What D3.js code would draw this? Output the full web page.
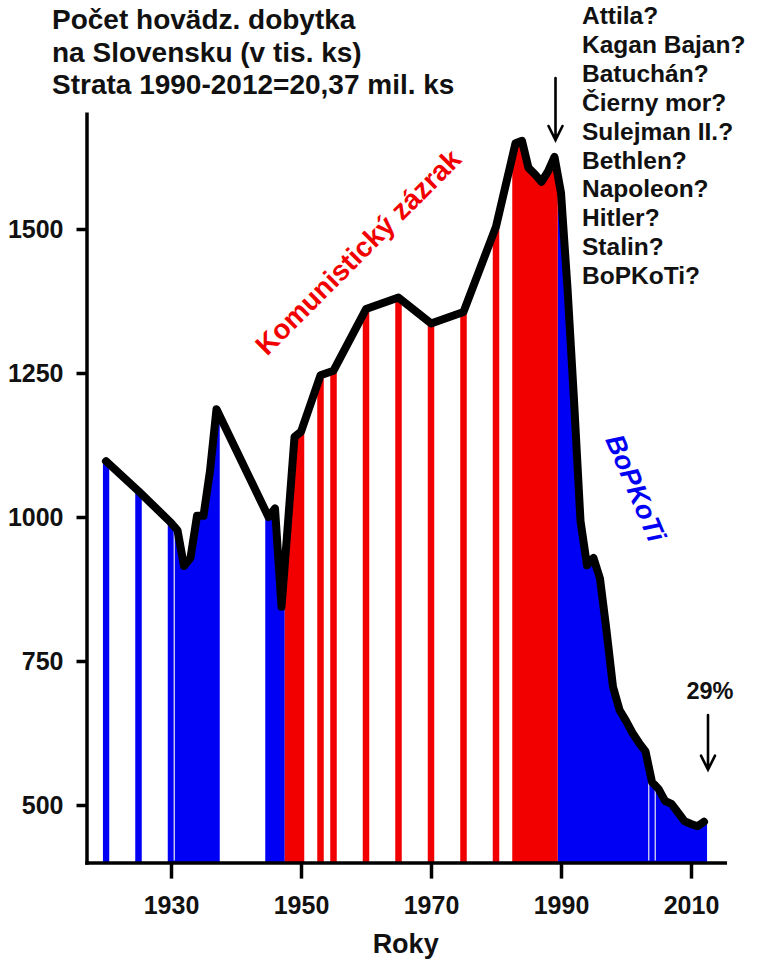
<!DOCTYPE html>
<html><head><meta charset="utf-8">
<script src="https://cdn.jsdelivr.net/npm/d3@7"></script>
<style>
html,body{margin:0;padding:0;background:#fff;}
svg{display:block;font-family:"Liberation Sans",Arial,Helvetica,sans-serif;}
</style></head><body>
<svg id="chart" width="761" height="962"></svg>
<script>
// ---- data (thousands of head of cattle) ----
const years = [1920, 1925, 1930, 1931, 1932, 1933, 1934, 1935, 1936, 1937,
  1945, 1946, 1947, 1948, 1949, 1950, 1953, 1955, 1960, 1965, 1970, 1975, 1980,
  1983, 1984, 1985, 1986, 1987, 1988, 1989,
  1990, 1991, 1992, 1993, 1994, 1995, 1996, 1997, 1998, 1999, 2000, 2001,
  2002, 2003, 2004, 2005, 2006, 2007, 2008, 2009, 2010, 2011, 2012];
const values = [1097, 1045, 990, 977, 915, 929, 1002, 1002, 1080, 1187,
  1000, 1015, 844, 990, 1139, 1148, 1246, 1254, 1361, 1381, 1336, 1356, 1504,
  1649, 1653, 1606, 1595, 1582, 1600, 1625,
  1563, 1397, 1203, 993, 916, 929, 893, 803, 705, 665, 646, 625,
  608, 593, 540, 528, 507, 502, 487, 472, 467, 463, 471];
const communistEra = [1948, 1989];
const yTicks = [500, 750, 1000, 1250, 1500];
const xTicks = [1930, 1950, 1970, 1990, 2010];
const seamEdges = [1930.5, 2003.5, 2004.5];
const titleLines = ["Počet hovädz. dobytka", "na Slovensku (v tis. ks)", "Strata 1990-2012=20,37 mil. ks"];
const suspects = ["Attila?", "Kagan Bajan?", "Batuchán?", "Čierny mor?", "Sulejman II.?",
  "Bethlen?", "Napoleon?", "Hitler?", "Stalin?", "BoPKoTi?"];
const xTitle = "Roky";
const eraLabels = {red: "Komunistický zázrak", blue: "BoPKoTi"};
const lossLabel = "29%";

// ---- setup ----
const svg = d3.select("#chart");
const data = years.map((yr, i) => ({year: yr, v: values[i]}));
const x = d3.scaleLinear().domain([1917, 2015.2]).range([86.5, 724.8]);
const y = d3.scaleLinear().domain([400, 1700]).range([862.6, 113.8]);
const colors = {blue: "#0000f5", red: "#f20000"};
const eraOf = yr => (yr >= communistEra[0] && yr <= communistEra[1]) ? "red" : "blue";

// extended series so each yearly bar spans a full year
const ext = [{year: years[0] - 0.5, v: values[0]}, ...data,
             {year: years[years.length - 1] + 0.5, v: values[values.length - 1]}];
const area = d3.area().x(d => x(d.year)).y0(y(400)).y1(d => y(d.v));
const defs = svg.append("defs");
["blue", "red"].forEach(era => {
  const cp = defs.append("clipPath").attr("id", "clip-" + era);
  cp.selectAll("rect").data(data.filter(d => eraOf(d.year) === era)).join("rect")
    .attr("x", d => x(d.year - 0.5))
    .attr("width", d => x(d.year + 0.5) - x(d.year - 0.5))
    .attr("y", 0).attr("height", 962);
  svg.append("path").datum(ext).attr("d", area)
    .attr("fill", colors[era]).attr("clip-path", `url(#clip-${era})`);
});

// faint seams between some bars
const interp = yr => {
  const i = d3.bisector(d => d.year).right(data, yr);
  const a = data[i - 1], b = data[i];
  return a.v + (b.v - a.v) * (yr - a.year) / (b.year - a.year);
};
svg.append("g").selectAll("line").data(seamEdges).join("line")
  .attr("x1", d => x(d)).attr("x2", d => x(d))
  .attr("y1", y(400) - 2).attr("y2", d => y(interp(d)) + 4)
  .attr("stroke", "#d8d8f0").attr("stroke-width", 1.3);

// line
svg.append("path").datum(data)
  .attr("d", d3.line().x(d => x(d.year)).y(d => y(d.v)))
  .attr("fill", "none").attr("stroke", "#000").attr("stroke-width", 8)
  .attr("stroke-linejoin", "round").attr("stroke-linecap", "round");

// axes
const styleAxis = g => {
  g.attr("font-family", null).attr("font-size", null);
  g.select(".domain").attr("stroke", "#000").attr("stroke-width", 3.5).attr("stroke-linecap", "square");
  g.selectAll(".tick line").attr("stroke", "#000").attr("stroke-width", 3.5);
  g.selectAll(".tick text").attr("fill", "#111").attr("font-size", 25).attr("font-weight", "bold");
};
svg.append("g").attr("transform", `translate(${x(1917)},0)`)
  .call(d3.axisLeft(y).tickValues(yTicks).tickFormat(d3.format("d")).tickSize(10).tickPadding(13).tickSizeOuter(0))
  .call(styleAxis);
svg.append("g").attr("transform", `translate(0,${y(400)})`)
  .call(d3.axisBottom(x).tickValues(xTicks).tickFormat(d3.format("d")).tickSize(16).tickPadding(18).tickSizeOuter(0))
  .call(styleAxis);

svg.append("text").attr("x", (x(1917) + x(2015.2)) / 2).attr("y", 953)
  .attr("text-anchor", "middle").attr("font-size", 27).attr("font-weight", "bold").attr("fill", "#111")
  .text(xTitle);

// title
svg.append("g").selectAll("text").data(titleLines).join("text")
  .attr("x", 52).attr("y", (d, i) => 29 + i * 32.7)
  .attr("font-size", 28).attr("font-weight", "bold").attr("fill", "#111")
  .text(d => d);

// suspects list
svg.append("g").selectAll("text").data(suspects).join("text")
  .attr("x", 582).attr("y", (d, i) => 24 + i * 28.9)
  .attr("font-size", 24.5).attr("font-weight", "bold").attr("fill", "#111")
  .text(d => d);

// era labels
svg.append("text").attr("transform", "translate(358,252) rotate(-45)")
  .attr("text-anchor", "middle").attr("dy", "0.35em")
  .attr("font-size", 28).attr("font-weight", "bold").attr("fill", colors.red)
  .text(eraLabels.red);
svg.append("text").attr("transform", "translate(636,488) rotate(67)")
  .attr("text-anchor", "middle").attr("dy", "0.35em")
  .attr("font-size", 27).attr("font-weight", "bold").attr("font-style", "italic").attr("fill", colors.blue)
  .text(eraLabels.blue);

// arrows
const arrow = (ax, y0, y1) => {
  svg.append("path")
    .attr("d", `M${ax},${y0}V${y1}M${ax - 7},${y1 - 14}L${ax},${y1}L${ax + 7},${y1 - 14}`)
    .attr("fill", "none").attr("stroke", "#000").attr("stroke-width", 2.6)
    .attr("stroke-linejoin", "miter").attr("stroke-linecap", "round");
};
arrow(x(1989) + 1, 78, y(values[years.indexOf(1989)]) - 17);
arrow(x(2012) + 4, 715, y(values[values.length - 1]) - 52);
svg.append("text").attr("x", x(2012) + 6).attr("y", 699)
  .attr("text-anchor", "middle").attr("font-size", 23.5).attr("font-weight", "bold").attr("fill", "#111")
  .text(lossLabel);
</script>
</body></html>
